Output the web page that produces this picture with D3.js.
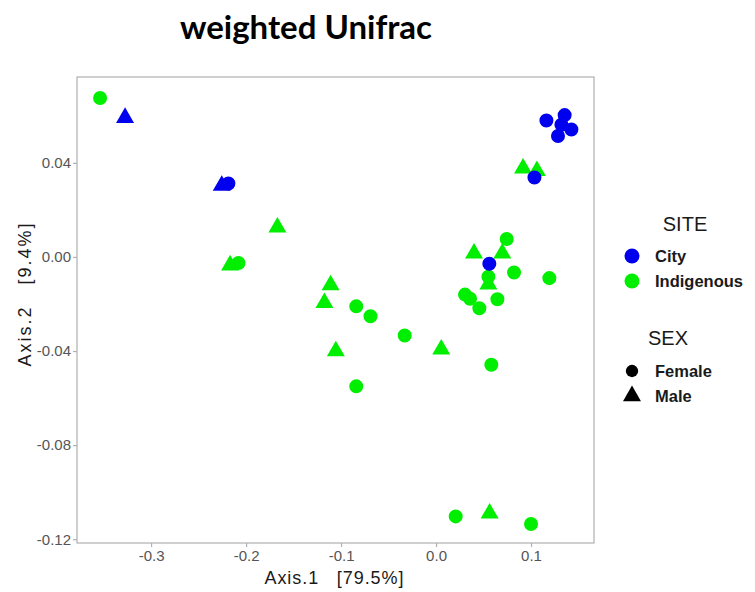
<!DOCTYPE html>
<html>
<head>
<meta charset="utf-8">
<script src="https://cdn.jsdelivr.net/npm/d3@7"></script>
<style>
  body { margin: 0; background: #fff; }
  svg { display: block; }
  text { white-space: pre; }
</style>
</head>
<body>
<div id="chart"></div>
<script>
// PCoA coordinates
const axis1 = [-0.3537, -0.3274, -0.2256, -0.2186, -0.1670, -0.2168, -0.2080, -0.1110, -0.1175, -0.0840,
               -0.0690, -0.0330, -0.1055, 0.0055, -0.0840, 0.0207, 0.0564, 0.1000, 0.0582, 0.0400,
               0.0698, 0.0744, 0.0821, 0.1193, 0.0551, 0.0551, 0.0305, 0.0358, 0.0646, 0.0456,
               0.0916, 0.1062, 0.1036, 0.0561, 0.1162, 0.1354, 0.1320, 0.1425, 0.1284];
const axis2 = [0.0676, 0.0592, 0.0303, 0.0312, 0.0126, -0.0035, -0.0026, -0.0120, -0.0195, -0.0210,
               -0.0252, -0.0334, -0.0400, -0.0393, -0.0550, -0.1103, -0.1090, -0.1135, -0.0458, 0.0015,
               0.0015, 0.0076, -0.0066, -0.0090, -0.0084, -0.0116, -0.0160, -0.0178, -0.0180, -0.0218,
               0.0377, 0.0366, 0.0338, -0.0029, 0.0580, 0.0603, 0.0562, 0.0542, 0.0514];
const site = ["Indigenous", "City", "City", "City", "Indigenous", "Indigenous", "Indigenous", "Indigenous", "Indigenous", "Indigenous",
              "Indigenous", "Indigenous", "Indigenous", "Indigenous", "Indigenous", "Indigenous", "Indigenous", "Indigenous", "Indigenous", "Indigenous",
              "Indigenous", "Indigenous", "Indigenous", "Indigenous", "Indigenous", "Indigenous", "Indigenous", "Indigenous", "Indigenous", "Indigenous",
              "Indigenous", "Indigenous", "City", "City", "City", "City", "City", "City", "City"];
const sex = ["Female", "Male", "Male", "Female", "Male", "Male", "Female", "Male", "Male", "Female",
             "Female", "Female", "Male", "Male", "Female", "Female", "Male", "Female", "Female", "Male",
             "Male", "Female", "Female", "Female", "Female", "Male", "Female", "Female", "Female", "Female",
             "Male", "Male", "Female", "Female", "Female", "Female", "Female", "Female", "Female"];

const siteLevels = ["City", "Indigenous"];
const sexLevels = ["Female", "Male"];
const xTicks = [-0.3, -0.2, -0.1, 0.0, 0.1];
const xTickLabels = ["-0.3", "-0.2", "-0.1", "0.0", "0.1"];
const yTicks = [0.04, 0.00, -0.04, -0.08, -0.12];
const yTickLabels = ["0.04", "0.00", "-0.04", "-0.08", "-0.12"];

const width = 755, height = 592;
const panel = { left: 77, right: 594, top: 77, bottom: 543 };
const sans = "'Liberation Sans', Arial, sans-serif";

const svg = d3.select("#chart").append("svg")
    .attr("width", width)
    .attr("height", height);

// scales
const x = d3.scaleLinear().domain([-0.378, 0.1663]).range([panel.left, panel.right]);
const y = d3.scaleLinear().domain([-0.1216, 0.0765]).range([panel.bottom, panel.top]);
const colour = d3.scaleOrdinal().domain(siteLevels).range(["#0000ee", "#00ee00"]);
const shape = d3.scaleOrdinal().domain(sexLevels).range([d3.symbolCircle, d3.symbolTriangle]);
const size = d3.scaleOrdinal().domain(sexLevels).range([154, 140]);

// title
svg.append("text")
    .attr("x", 306).attr("y", 39)
    .attr("text-anchor", "middle")
    .style("font-family", "Lato, 'Open Sans', sans-serif")
    .style("font-weight", "bold")
    .style("font-size", "33px")
    .text("weighted Unifrac");

// axes
const xAxis = svg.append("g")
    .attr("transform", `translate(0,${panel.bottom})`)
    .call(d3.axisBottom(x).tickValues(xTicks).tickSize(4).tickPadding(3)
        .tickFormat((d, i) => xTickLabels[i]));
const yAxis = svg.append("g")
    .attr("transform", `translate(${panel.left},0)`)
    .call(d3.axisLeft(y).tickValues(yTicks).tickSize(4).tickPadding(2)
        .tickFormat((d, i) => yTickLabels[i]));

[xAxis, yAxis].forEach(g => {
    g.select(".domain").remove();
    g.selectAll(".tick line").attr("stroke", "#b0b0b0").attr("stroke-width", 1.2);
    g.selectAll(".tick text")
        .attr("fill", "#555")
        .style("font-family", sans)
        .style("font-size", "15px");
});

// panel border
svg.append("rect")
    .attr("x", panel.left).attr("y", panel.top)
    .attr("width", panel.right - panel.left)
    .attr("height", panel.bottom - panel.top)
    .attr("fill", "none")
    .attr("stroke", "#b0b0b0")
    .attr("stroke-width", 1.2);

// axis titles
svg.append("text")
    .attr("x", 334).attr("y", 584)
    .attr("text-anchor", "middle")
    .attr("textLength", 139).attr("lengthAdjust", "spacing")
    .style("font-family", sans).style("font-size", "18px").attr("fill", "#1a1a1a")
    .text("Axis.1   [79.5%]");
svg.append("text")
    .attr("transform", "translate(31,295) rotate(-90)")
    .attr("text-anchor", "middle")
    .attr("textLength", 143).attr("lengthAdjust", "spacing")
    .style("font-family", sans).style("font-size", "18px").attr("fill", "#1a1a1a")
    .text("Axis.2   [9.4%]");

// points
const points = axis1.map((v, i) => ({ x: v, y: axis2[i], site: site[i], sex: sex[i] }));
const order = points.slice().sort((a, b) => (a.site === "City") - (b.site === "City"));

svg.append("g").selectAll("path")
    .data(order)
    .join("path")
    .attr("transform", d => `translate(${x(d.x)},${y(d.y)})`)
    .attr("d", d => d3.symbol().type(shape(d.sex)).size(size(d.sex))())
    .attr("fill", d => colour(d.site));

// legend
const legend = svg.append("g");
const keyX = 632, labelX = 655;

function legendTitle(txt, cx, yy) {
    legend.append("text")
        .attr("x", cx).attr("y", yy)
        .attr("text-anchor", "middle")
        .style("font-family", sans).style("font-size", "20px").attr("fill", "#1a1a1a")
        .text(txt);
}
function legendLabel(txt, yy) {
    legend.append("text")
        .attr("x", labelX).attr("y", yy + 6)
        .style("font-family", sans).style("font-size", "16.5px").style("font-weight", "bold")
        .attr("fill", "#1a1a1a")
        .text(txt);
}

legendTitle("SITE", 685, 231);
siteLevels.forEach((s, i) => {
    const yy = 256 + i * 25;
    legend.append("circle").attr("cx", keyX).attr("cy", yy).attr("r", 7.5).attr("fill", colour(s));
    legendLabel(s, yy);
});

legendTitle("SEX", 668, 345);
sexLevels.forEach((s, i) => {
    const yy = 371 + i * 25;
    legend.append("path")
        .attr("transform", `translate(${keyX},${yy})`)
        .attr("d", d3.symbol().type(shape(s)).size(s === "Female" ? 120 : 140)())
        .attr("fill", "#000");
    legendLabel(s, yy);
});
</script>
</body>
</html>
